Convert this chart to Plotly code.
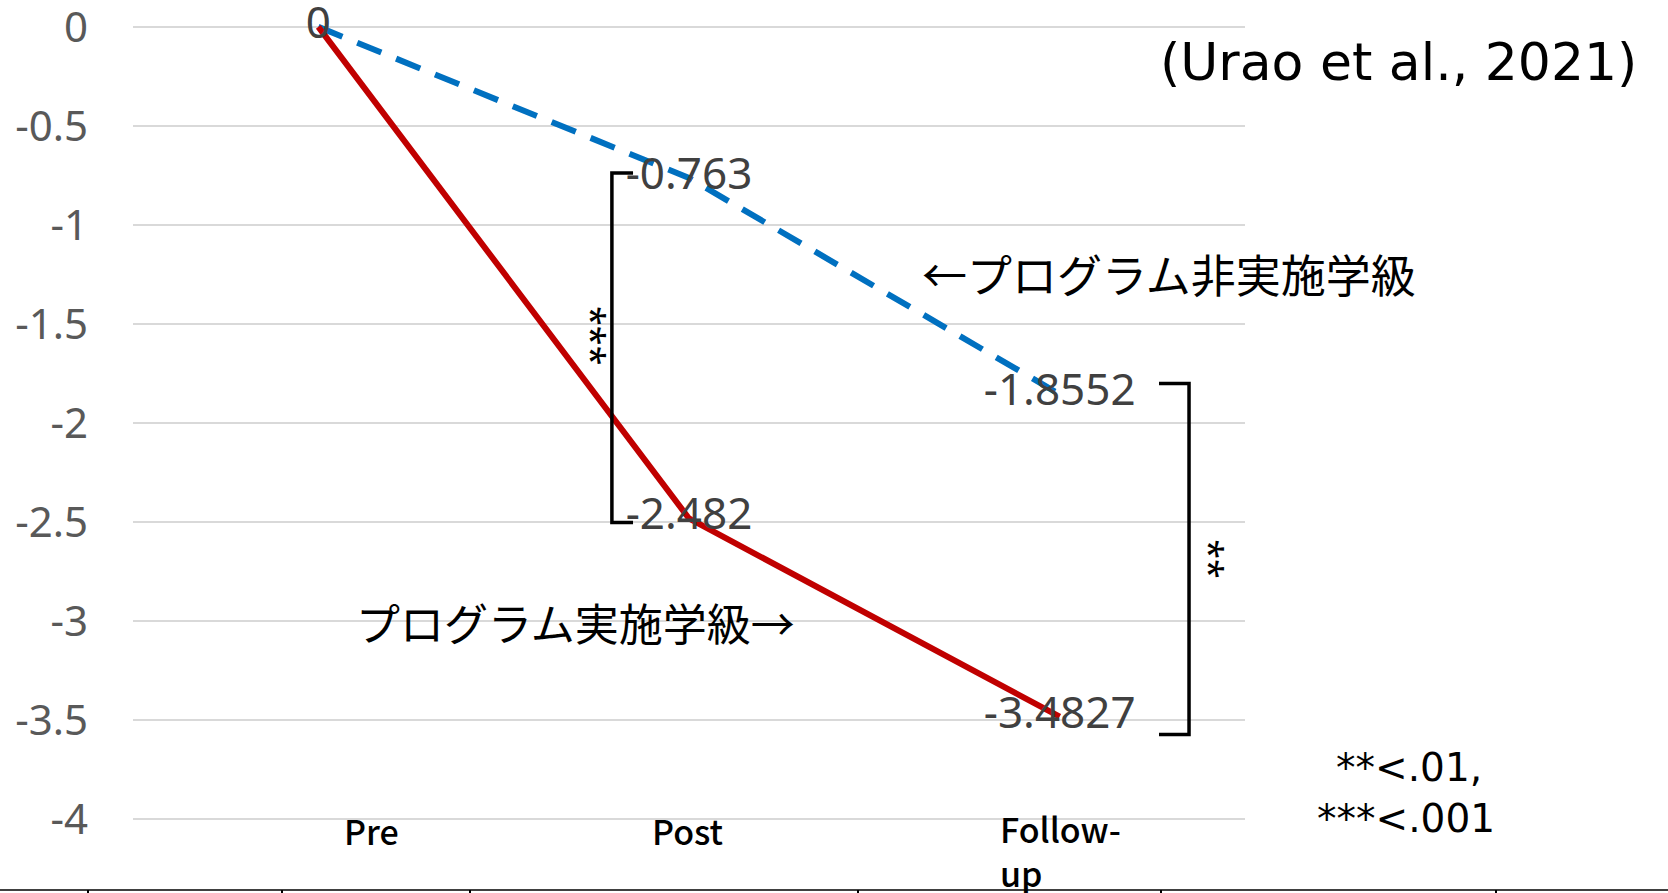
import plotly.graph_objects as go

# 学級別の得点変化（Pre を 0 とした差分）
categories = ["Pre", "Post", "Follow-up"]
category_labels = ["Pre", "Post", "Follow-<br>up"]
non_program = [0, -0.763, -1.8552]   # プログラム非実施学級
program = [0, -2.482, -3.4827]       # プログラム実施学級

ytick_vals = [0, -0.5, -1, -1.5, -2, -2.5, -3, -3.5, -4]
ytick_text = ["0", "-0.5", "-1", "-1.5", "-2", "-2.5", "-3", "-3.5", "-4"]

BLUE = "#0070C0"
RED = "#C00000"
NUM_FONT = "Noto Sans"
JP_FONT = "Noto Sans CJK JP"
ROUND_FONT = "DejaVu Sans"

# プロット領域（px）: 左 133, 右 1245, 上 17, 下 829
L, R, T, B = 133, 1245, 17, 829


def px(x, y):
    """画素位置 -> paper 座標"""
    return (x - L) / (R - L), (B - y) / (B - T)


fig = go.Figure()

fig.add_trace(go.Scatter(
    x=categories, y=non_program, mode="lines",
    line=dict(color=BLUE, width=6, dash="26px,16px"),
    showlegend=False, hoverinfo="skip",
))
fig.add_trace(go.Scatter(
    x=categories, y=program, mode="lines",
    line=dict(color=RED, width=6),
    showlegend=False, hoverinfo="skip",
))

# データラベル（線の上に重ねる）
fig.add_trace(go.Scatter(
    x=categories, y=non_program, mode="text",
    text=[f"{v:g}" for v in non_program], textposition="middle center",
    textfont=dict(family=NUM_FONT, size=44, color="#404040"),
    showlegend=False, hoverinfo="skip", cliponaxis=False,
))
fig.add_trace(go.Scatter(
    x=categories[1:], y=program[1:], mode="text",
    text=[f"{v:g}" for v in program[1:]], textposition="middle center",
    textfont=dict(family=NUM_FONT, size=44, color="#404040"),
    showlegend=False, hoverinfo="skip", cliponaxis=False,
))

# 有意差の括弧
bk = dict(color="black", width=3.5)
lx, lt = 0.792, 0.849
top_l, bot_l = non_program[1] + 0.025, program[1] - 0.02
fig.add_shape(type="path", xref="x", yref="y", line=bk,
              path=f"M {lt},{top_l} L {lx},{top_l} L {lx},{bot_l} L {lt},{bot_l}")
rx, rt = 2.349, 2.268
top_r, bot_r = non_program[2] + 0.055, program[2] - 0.09
fig.add_shape(type="path", xref="x", yref="y", line=bk,
              path=f"M {rt},{top_r} L {rx},{top_r} L {rx},{bot_r} L {rt},{bot_r}")

annotations = [
    dict(x=0.738, y=(top_l + bot_l) / 2 + 0.06, text="***", textangle=90,
         xref="x", yref="y", font=dict(family=NUM_FONT, size=36, color="black")),
    dict(x=2.405, y=(top_r + bot_r) / 2, text="**", textangle=90,
         xref="x", yref="y", font=dict(family=NUM_FONT, size=36, color="black")),
    dict(x=1.623, y=-1.247, text="←プログラム非実施学級", xanchor="left",
         xref="x", yref="y", font=dict(family=JP_FONT, size=45, color="black")),
    dict(x=0.095, y=-3.005, text="プログラム実施学級→", xanchor="left",
         xref="x", yref="y", font=dict(family=JP_FONT, size=44, color="black")),
]

ax, ay = px(1158, 62)
annotations.append(dict(x=ax, y=ay, text="(Urao et al., 2021)", xanchor="left",
                        xref="paper", yref="paper",
                        font=dict(family=ROUND_FONT, size=52, color="black")))
for txt, (cx, cy) in zip(["**<.01,", "***<.001"], [(1409, 767), (1406, 818)]):
    ax, ay = px(cx, cy)
    annotations.append(dict(x=ax, y=ay, text=txt, xanchor="center",
                            xref="paper", yref="paper",
                            font=dict(family=ROUND_FONT, size=39, color="black")))

# カテゴリラベル
label_pos = [(371, 830), (687, 830), (998, 850)]
label_anchor = ["center", "center", "left"]
for lab, (cx, cy), anc in zip(category_labels, label_pos, label_anchor):
    ax, ay = px(cx, cy)
    annotations.append(dict(x=ax, y=ay, text=lab, xanchor=anc, align="left",
                            xref="paper", yref="paper",
                            font=dict(family=JP_FONT, size=34, color="black", weight=500)))

for a in annotations:
    a.update(showarrow=False, yanchor="middle")
fig.update_layout(annotations=annotations)

# 下端の罫線
_, line_y = px(0, 890)
_, tick_y = px(0, 893)
fig.add_shape(type="line", xref="paper", yref="paper", x0=px(0, 0)[0], x1=px(1668, 0)[0],
              y0=line_y, y1=line_y, line=dict(color="#404040", width=2))
for tx in [88, 282, 470, 858, 1161, 1496]:
    fig.add_shape(type="line", xref="paper", yref="paper", x0=px(tx, 0)[0], x1=px(tx, 0)[0],
                  y0=line_y, y1=tick_y, line=dict(color="black", width=2))

fig.update_xaxes(
    type="category", categoryorder="array", categoryarray=categories,
    range=[-0.5, 2.5], showticklabels=False, showgrid=False,
    zeroline=False, showline=False, ticks="", automargin=False,
)
fig.update_yaxes(
    range=[-4.05, 0.05], tickvals=ytick_vals, ticktext=ytick_text,
    showgrid=True, gridcolor="#D9D9D9", gridwidth=1.5,
    zeroline=False, showline=False, ticks="", ticklabelstandoff=44,
    automargin=False, ticklabeloverflow="allow",
    tickfont=dict(family=NUM_FONT, size=42, color="#595959"),
)
fig.update_layout(
    width=1668, height=893,
    margin=dict(l=L, r=1668 - R, t=T, b=893 - B),
    plot_bgcolor="white", paper_bgcolor="white",
    showlegend=False,
)

fig.write_html("out.html", config={"displayModeBar": False},
               post_script="document.body.style.margin='0';")
